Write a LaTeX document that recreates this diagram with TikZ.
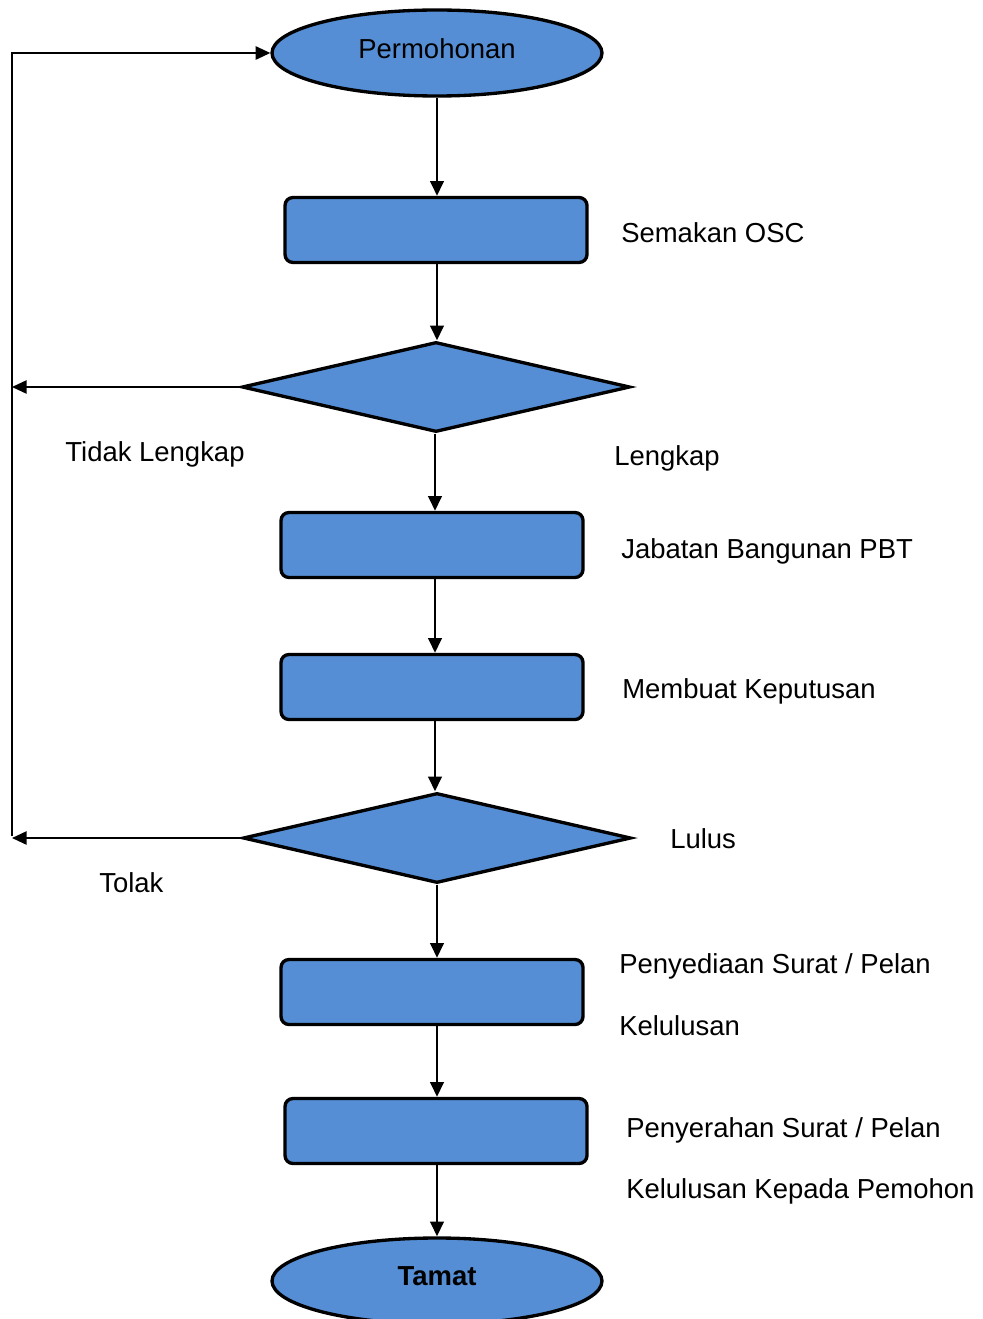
\documentclass[tikz,border=0pt]{standalone}
\usepackage{fontspec}
\setmainfont{Liberation Sans}
\usetikzlibrary{shapes.geometric,arrows.meta}
\definecolor{fillblue}{HTML}{558ED5}
\begin{document}
\begin{tikzpicture}[x=0.75pt,y=-0.75pt,
 font=\fontsize{20.6}{24}\selectfont,
 term/.style={ellipse,draw,line width=2.5pt,fill=fillblue,minimum width=247.5pt,minimum height=64.5pt,inner sep=0pt},
 procbox/.style={rectangle,rounded corners=6pt,draw,line width=2.5pt,fill=fillblue,minimum width=226.5pt,minimum height=48.75pt,inner sep=0pt},
 decision/.style={diamond,draw,line width=2.5pt,fill=fillblue,minimum width=291pt,minimum height=67.5pt,inner sep=0pt},
 flow/.style={-{Triangle[length=11pt,width=10pt]},line width=2pt},
 back/.style={-{Triangle[length=11pt,width=10pt]},line width=1.2pt},
 lbl/.style={anchor=base west,inner sep=0pt}]
\useasboundingbox (0,0) rectangle (982,1319);
\clip (0,0) rectangle (982,1319);

\node[term] (perm) at (437,53) {\raisebox{6pt}{Permohonan}};
\node[procbox] (semak) at (436,230) {};
\node[decision] (d1) at (436,387) {};
\node[procbox] (jab) at (432,545) {};
\node[procbox] (mem) at (432,687) {};
\node[decision] (d2) at (437,838) {};
\node[procbox] (peny) at (432,992) {};
\node[procbox] (pyr) at (436,1131) {};
\node[term] (tamat) at (437,1281) {\raisebox{7.5pt}{\bfseries Tamat}};

\draw[flow] (perm.south) -- (perm.south |- semak.north);
\draw[flow] ([xshift=0.75pt]semak.south) -- ([xshift=0.75pt]semak.south |- d1.north);
\draw[flow] ([xshift=-0.75pt]d1.south) -- ([xshift=-0.75pt]d1.south |- jab.north);
\draw[flow] ([xshift=2.25pt]jab.south) -- ([xshift=2.25pt]jab.south |- mem.north);
\draw[flow] ([xshift=2.25pt]mem.south) -- ([xshift=2.25pt]mem.south |- d2.north);
\draw[flow] (d2.south) -- (d2.south |- peny.north);
\draw[flow] ([xshift=3.75pt]peny.south) -- ([xshift=3.75pt]peny.south |- pyr.north);
\draw[flow] ([xshift=0.75pt]pyr.south) -- ([xshift=0.75pt]pyr.south |- tamat.north);

\coordinate (c1) at (12,387);
\coordinate (c2) at (12,836);
\coordinate (ctop) at (12,53);
\draw[back] (d1.west) -- (d1.west -| c1);
\draw[back] (d2.west) -- (d2.west -| c2);
\draw[back] (c2) -- (ctop) -- (perm.west);

\node[lbl] (l1) at (621,243) {Semakan OSC};
\node[anchor=base,inner sep=0pt] (l2) at (155,461) {Tidak Lengkap};
\node[lbl] (l3) at (614,465) {Lengkap};
\node[lbl] (l4) at (621,558) {Jabatan Bangunan PBT};
\node[lbl] (l5) at (622,698) {Membuat Keputusan};
\node[lbl] (l6) at (670,848) {Lulus};
\node[lbl] (l7) at (99,892) {Tolak};
\node[lbl] (l8) at (619,973) {Penyediaan Surat / Pelan};
\node[lbl] (l9) at (619,1035) {Kelulusan};
\node[lbl] (l10) at (626,1137) {Penyerahan Surat / Pelan};
\node[lbl] (l11) at (626,1198) {Kelulusan Kepada Pemohon};
\end{tikzpicture}
\end{document}
